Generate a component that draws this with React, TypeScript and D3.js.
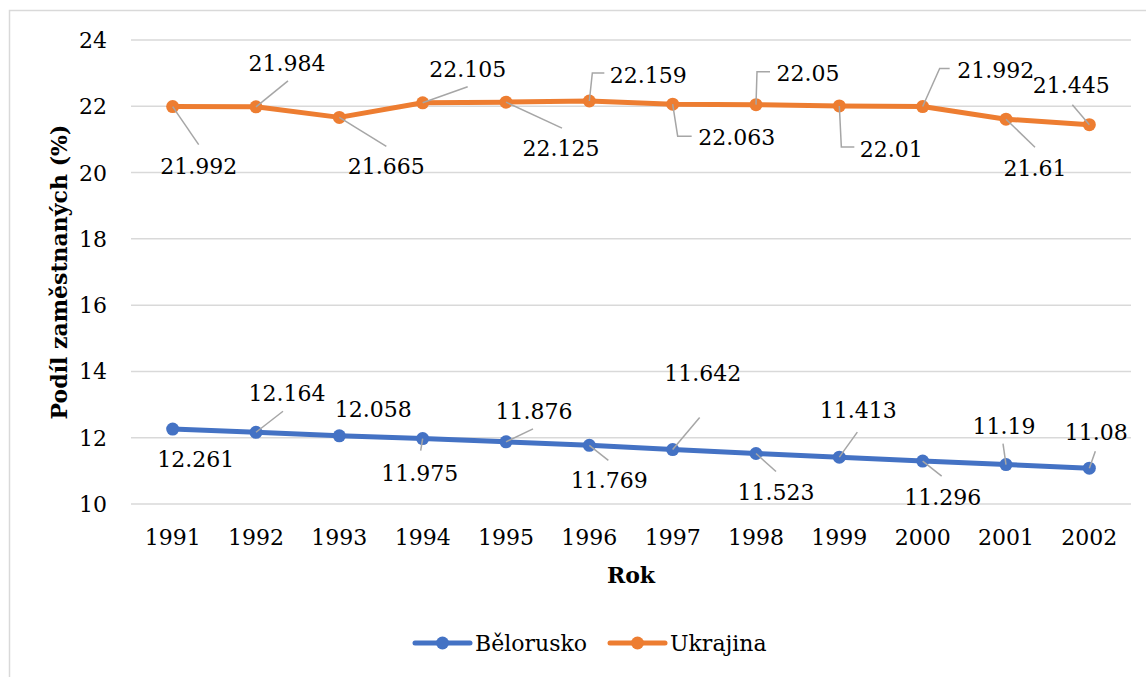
import React from "react";
import * as d3 from "d3";

const years = ["1991","1992","1993","1994","1995","1996","1997","1998","1999","2000","2001","2002"];
const belorusko = [12.261, 12.164, 12.058, 11.975, 11.876, 11.769, 11.642, 11.523, 11.413, 11.296, 11.19, 11.08];
const ukrajina = [21.992, 21.984, 21.665, 22.105, 22.125, 22.159, 22.063, 22.05, 22.01, 21.992, 21.61, 21.445];
const yTicks = [10, 12, 14, 16, 18, 20, 22, 24];

// label layout: [dx, dy] of label centre relative to point, leader polyline relative to point
type Lab = { dx: number; dy: number; leader: [number, number][] };
const ukrLabels: Lab[] = [
  { dx: 26, dy: 59, leader: [[0, 0], [26, 38]] },
  { dx: 31, dy: -44, leader: [[0, 0], [32, -26]] },
  { dx: 47, dy: 49, leader: [[0, 0], [47, 29]] },
  { dx: 45, dy: -34, leader: [[0, 0], [45, -16]] },
  { dx: 55, dy: 46, leader: [[0, 0], [56, 26]] },
  { dx: 59, dy: -26, leader: [[0, 0], [3, -28], [15, -28]] },
  { dx: 64, dy: 33, leader: [[0, 0], [5, 32], [19, 32]] },
  { dx: 52, dy: -32, leader: [[0, 0], [1, -33], [14, -33]] },
  { dx: 52, dy: 43, leader: [[0, 0], [2, 41], [15, 41]] },
  { dx: 73, dy: -37, leader: [[0, 0], [17, -38], [27, -38]] },
  { dx: 29, dy: 49, leader: [[0, 0], [29, 28]] },
  { dx: -18, dy: -40, leader: [[0, 0], [-17, -20]] },
];
const belLabels: Lab[] = [
  { dx: 23, dy: 30, leader: [] },
  { dx: 31, dy: -39, leader: [[0, 0], [27, -21]] },
  { dx: 34, dy: -27, leader: [] },
  { dx: -3, dy: 34, leader: [[0, 0], [-2, 12]] },
  { dx: 28, dy: -31, leader: [[0, 0], [27, -13]] },
  { dx: 20, dy: 35, leader: [[0, 0], [19, 15]] },
  { dx: 30, dy: -77, leader: [[0, 0], [27, -32]] },
  { dx: 20, dy: 38, leader: [[0, 0], [20, 18]] },
  { dx: 19, dy: -47, leader: [[0, 0], [18, -25]] },
  { dx: 20, dy: 36, leader: [[0, 0], [19, 15]] },
  { dx: -2, dy: -39, leader: [[0, 0], [-3, -21]] },
  { dx: 7, dy: -36, leader: [[0, 0], [6, -17]] },
];

const W = 1146, H = 677;
const plot = { left: 131, right: 1131, top: 40, bottom: 504 };
const FONT = '"DejaVu Serif", serif';
const BLUE = "#4472C4", ORANGE = "#ED7D31";
const FS = 22;
const txt = { fontFamily: FONT, fontSize: `${FS}px` } as React.CSSProperties;
const BASE = 8;

export default function App() {
  const x = d3.scaleBand().domain(years).range([plot.left, plot.right]);
  const y = d3.scaleLinear().domain([10, 24]).range([plot.bottom, plot.top]);
  const cx = (i: number) => (x(years[i]) as number) + x.bandwidth() / 2;
  const line = d3.line<number>().x((_, i) => cx(i)).y((d) => y(d));

  const series = [
    { name: "Bělorusko", values: belorusko, color: BLUE, labels: belLabels },
    { name: "Ukrajina", values: ukrajina, color: ORANGE, labels: ukrLabels },
  ];

  return (
    <div style={{ position: "absolute", left: 0, top: 0 }}>
      <svg width={W} height={H} style={{ display: "block", background: "#fff", fontFamily: FONT }}>
        <rect x={9.5} y={10.5} width={1200} height={800} fill="#fff" stroke="#d9d9d9" strokeWidth={1.5} />
        {yTicks.map((t) => (
          <g key={t}>
            <line x1={plot.left} x2={plot.right} y1={y(t)} y2={y(t)} stroke="#d9d9d9" strokeWidth={1.5} />
            <text x={107} y={y(t) + BASE} textAnchor="end" style={txt} fill="#000">{t}</text>
          </g>
        ))}
        {years.map((yr, i) => (
          <text key={yr} x={cx(i)} y={545} textAnchor="middle" style={txt} fill="#000">{yr}</text>
        ))}
        <text x={631} y={583} textAnchor="middle" style={{ ...txt, fontWeight: "bold" }} fill="#000">Rok</text>
        <text transform={`translate(67,${(plot.top + plot.bottom) / 2}) rotate(-90)`} textAnchor="middle" style={{ ...txt, fontWeight: "bold" }} fill="#000">Podíl zaměstnaných (%)</text>

        {series.map((s) => (
          <g key={s.name}>
            <path d={line(s.values) as string} fill="none" stroke={s.color} strokeWidth={5} strokeLinejoin="round" strokeLinecap="round" />
            {s.values.map((v, i) => (
              <circle key={i} cx={cx(i)} cy={y(v)} r={6.5} fill={s.color} />
            ))}
          </g>
        ))}
        {series.map((s) => (
          <g key={s.name + "-labels"}>
            {s.values.map((v, i) => {
              const px = cx(i), py = y(v);
              const lab = s.labels[i];
              return (
                <g key={i}>
                  {lab.leader.length > 0 && (
                    <polyline points={lab.leader.map(([a, b]) => `${px + a},${py + b}`).join(" ")} fill="none" stroke="#a6a6a6" strokeWidth={1.5} />
                  )}
                  <text x={px + lab.dx} y={py + lab.dy + BASE} textAnchor="middle" style={txt} fill="#000">{String(v)}</text>
                </g>
              );
            })}
          </g>
        ))}

        {series.map((s, k) => {
          const lx = k === 0 ? 415 : 610;
          return (
            <g key={s.name + "-leg"}>
              <line x1={lx} x2={lx + 55} y1={643} y2={643} stroke={s.color} strokeWidth={5} strokeLinecap="round" />
              <circle cx={lx + 27.5} cy={643} r={6.5} fill={s.color} />
              <text x={lx + 60} y={651} style={txt} fill="#000">{s.name}</text>
            </g>
          );
        })}
      </svg>
    </div>
  );
}
